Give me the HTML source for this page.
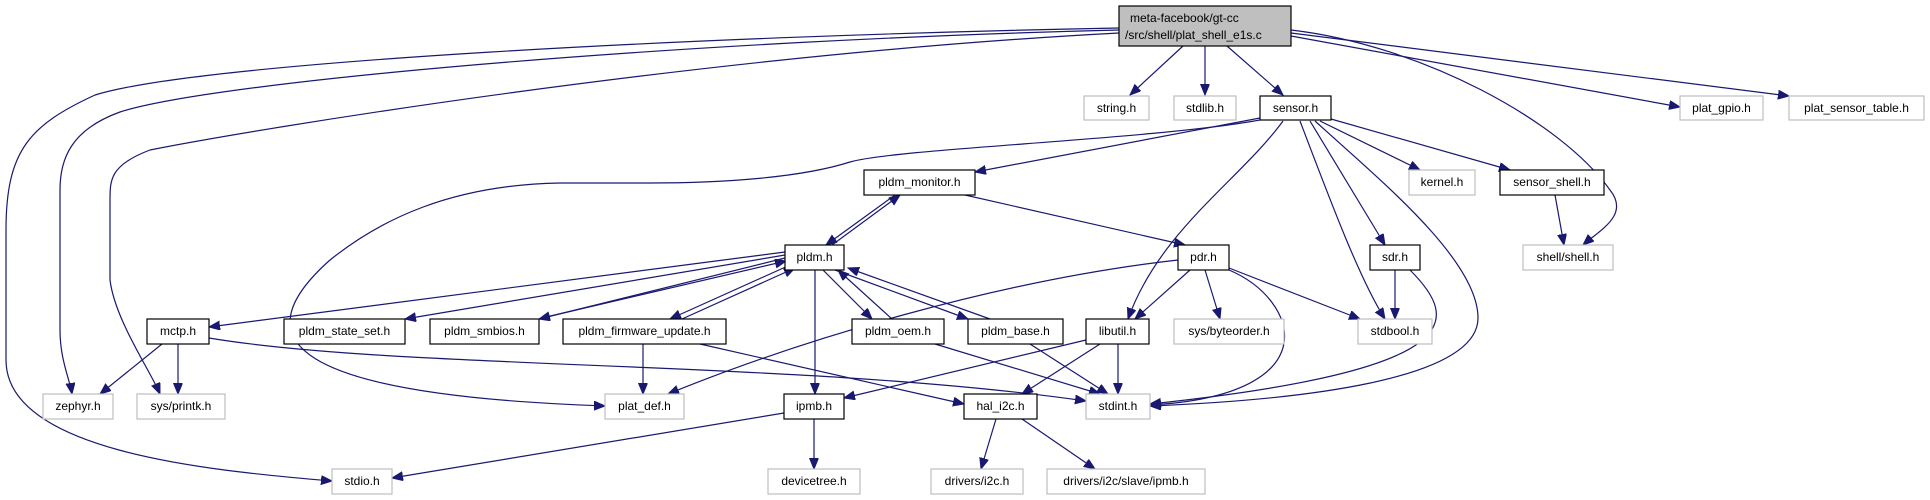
<!DOCTYPE html>
<html><head><meta charset="utf-8"><style>
html,body{margin:0;padding:0;background:#fff}
svg{display:block}
text{font-family:"Liberation Sans",sans-serif;font-size:12px;fill:#000}
.e{fill:none;stroke:#191970;stroke-width:1.2}
.nb{fill:#fff;stroke:#000;stroke-width:1.2}
.ng{fill:#fff;stroke:#bfbfbf;stroke-width:1.2}
</style></head><body>
<svg width="1930" height="500" viewBox="0 0 1930 500" xmlns="http://www.w3.org/2000/svg">
<defs><marker id="a" markerUnits="userSpaceOnUse" markerWidth="12" markerHeight="10" refX="11" refY="4.5" orient="auto"><path d="M0,0 L11,4.5 L0,9 z" fill="#191970" stroke="#191970"/></marker></defs>
<g class="e" marker-end="url(#a)">
<path d="M1119,28 C700,36 200,62 95,95 C30,125 6,150 6,230 L6,360 C6,450 200,470 332,481"/>
<path d="M1119,30 C700,40 220,80 120,112 C70,130 60,160 60,190 L60,330 C60,360 70,380 72,394"/>
<path d="M1119,33 C700,55 250,130 150,150 C110,165 110,180 110,200 L110,280 C115,320 150,370 160,394"/>
<path d="M1291,36 L1680,107"/>
<path d="M1291,33 L1789,96"/>
<path d="M1291,30 C1420,45 1560,120 1610,190 C1630,215 1600,230 1583,245"/>
<path d="M1183,46 L1130,95"/>
<path d="M1205,46 L1205,95"/>
<path d="M1227,46 L1283,95"/>
<path d="M1260,118 L975,172"/>
<path d="M1260,120 C1150,140 900,148 850,162 C800,178 720,183 650,183 L560,183 C450,185 380,220 330,260 C240,340 290,395 605,406"/>
<path d="M1283,121 C1240,180 1160,230 1128,319"/>
<path d="M1320,121 L1420,170"/>
<path d="M1331,119 L1510,170"/>
<path d="M1310,121 L1385,245"/>
<path d="M1300,121 C1330,200 1360,280 1385,319"/>
<path d="M1315,121 C1380,180 1478,260 1478,318 C1478,380 1300,400 1150,406"/>
<path d="M1395,270 L1395,319"/>
<path d="M1410,270 C1460,320 1470,370 1150,404"/>
<path d="M1555,195 L1564,245"/>
<path d="M895,195 L826,245"/>
<path d="M832,245 L900,195"/>
<path d="M965,195 L1185,245"/>
<path d="M785,252 L209,327"/>
<path d="M785,255 L405,319"/>
<path d="M785,258 L539,319"/>
<path d="M542,318 L786,261"/>
<path d="M790,265 L670,319"/>
<path d="M682,319 L795,268"/>
<path d="M815,270 L815,394"/>
<path d="M823,270 L872,319"/>
<path d="M892,319 L838,270"/>
<path d="M835,270 L968,319"/>
<path d="M990,319 L848,268"/>
<path d="M1178,260 C1000,280 800,340 668,394"/>
<path d="M1190,270 L1135,319"/>
<path d="M1205,270 L1220,319"/>
<path d="M1229,268 L1360,319"/>
<path d="M1229,270 C1300,300 1330,395 1150,405"/>
<path d="M162,344 L100,394"/>
<path d="M178,344 L178,394"/>
<path d="M209,338 C400,370 800,360 1086,401"/>
<path d="M643,344 L643,394"/>
<path d="M700,344 L964,404"/>
<path d="M935,344 L1100,394"/>
<path d="M1030,344 L1108,394"/>
<path d="M1086,340 L844,398"/>
<path d="M1100,344 L1022,394"/>
<path d="M1118,344 L1118,394"/>
<path d="M784,413 L392,478"/>
<path d="M814,419 L814,469"/>
<path d="M996,419 L981,469"/>
<path d="M1022,419 L1095,469"/>
</g>
<rect x="1119" y="6" width="172" height="40" fill="#bfbfbf" stroke="#000" stroke-width="1.2"/>
<text x="1130" y="22">meta-facebook/gt-cc</text>
<text x="1125" y="39">/src/shell/plat_shell_e1s.c</text>
<g>
<rect class="ng" x="1084" y="96" width="65" height="24"/><text x="1116.5" y="112" text-anchor="middle">string.h</text>
<rect class="ng" x="1174" y="96" width="62" height="24"/><text x="1205" y="112" text-anchor="middle">stdlib.h</text>
<rect class="nb" x="1260" y="96" width="71" height="24"/><text x="1295.5" y="112" text-anchor="middle">sensor.h</text>
<rect class="ng" x="1680" y="96" width="83" height="24"/><text x="1721.5" y="112" text-anchor="middle">plat_gpio.h</text>
<rect class="ng" x="1789" y="96" width="135" height="24"/><text x="1856.5" y="112" text-anchor="middle">plat_sensor_table.h</text>
<rect class="nb" x="864" y="170" width="111" height="25"/><text x="919.5" y="186" text-anchor="middle">pldm_monitor.h</text>
<rect class="ng" x="1409" y="170" width="66" height="25"/><text x="1442" y="186" text-anchor="middle">kernel.h</text>
<rect class="nb" x="1500" y="170" width="104" height="25"/><text x="1552" y="186" text-anchor="middle">sensor_shell.h</text>
<rect class="nb" x="785" y="245" width="59" height="25"/><text x="814.5" y="261" text-anchor="middle">pldm.h</text>
<rect class="nb" x="1178" y="245" width="51" height="25"/><text x="1203.5" y="261" text-anchor="middle">pdr.h</text>
<rect class="nb" x="1370" y="245" width="50" height="25"/><text x="1395" y="261" text-anchor="middle">sdr.h</text>
<rect class="ng" x="1523" y="245" width="90" height="25"/><text x="1568" y="261" text-anchor="middle">shell/shell.h</text>
<rect class="nb" x="147" y="319" width="62" height="25"/><text x="178" y="335" text-anchor="middle">mctp.h</text>
<rect class="nb" x="284" y="319" width="121" height="25"/><text x="344.5" y="335" text-anchor="middle">pldm_state_set.h</text>
<rect class="nb" x="430" y="319" width="109" height="25"/><text x="484.5" y="335" text-anchor="middle">pldm_smbios.h</text>
<rect class="nb" x="563" y="319" width="163" height="25"/><text x="644.5" y="335" text-anchor="middle">pldm_firmware_update.h</text>
<rect class="nb" x="852" y="319" width="92" height="25"/><text x="898" y="335" text-anchor="middle">pldm_oem.h</text>
<rect class="nb" x="968" y="319" width="95" height="25"/><text x="1015.5" y="335" text-anchor="middle">pldm_base.h</text>
<rect class="nb" x="1086" y="319" width="63" height="25"/><text x="1117.5" y="335" text-anchor="middle">libutil.h</text>
<rect class="ng" x="1174" y="319" width="110" height="25"/><text x="1229" y="335" text-anchor="middle">sys/byteorder.h</text>
<rect class="ng" x="1358" y="319" width="74" height="25"/><text x="1395" y="335" text-anchor="middle">stdbool.h</text>
<rect class="ng" x="43" y="394" width="70" height="25"/><text x="78" y="410" text-anchor="middle">zephyr.h</text>
<rect class="ng" x="137" y="394" width="88" height="25"/><text x="181" y="410" text-anchor="middle">sys/printk.h</text>
<rect class="ng" x="605" y="394" width="79" height="25"/><text x="644.5" y="410" text-anchor="middle">plat_def.h</text>
<rect class="nb" x="784" y="394" width="60" height="25"/><text x="814" y="410" text-anchor="middle">ipmb.h</text>
<rect class="nb" x="964" y="394" width="73" height="25"/><text x="1000.5" y="410" text-anchor="middle">hal_i2c.h</text>
<rect class="ng" x="1086" y="394" width="64" height="25"/><text x="1118" y="410" text-anchor="middle">stdint.h</text>
<rect class="ng" x="332" y="469" width="60" height="25"/><text x="362" y="485" text-anchor="middle">stdio.h</text>
<rect class="ng" x="768" y="469" width="92" height="25"/><text x="814" y="485" text-anchor="middle">devicetree.h</text>
<rect class="ng" x="931" y="469" width="92" height="25"/><text x="977" y="485" text-anchor="middle">drivers/i2c.h</text>
<rect class="ng" x="1047" y="469" width="158" height="25"/><text x="1126" y="485" text-anchor="middle">drivers/i2c/slave/ipmb.h</text>
</g>
</svg>
</body></html>
